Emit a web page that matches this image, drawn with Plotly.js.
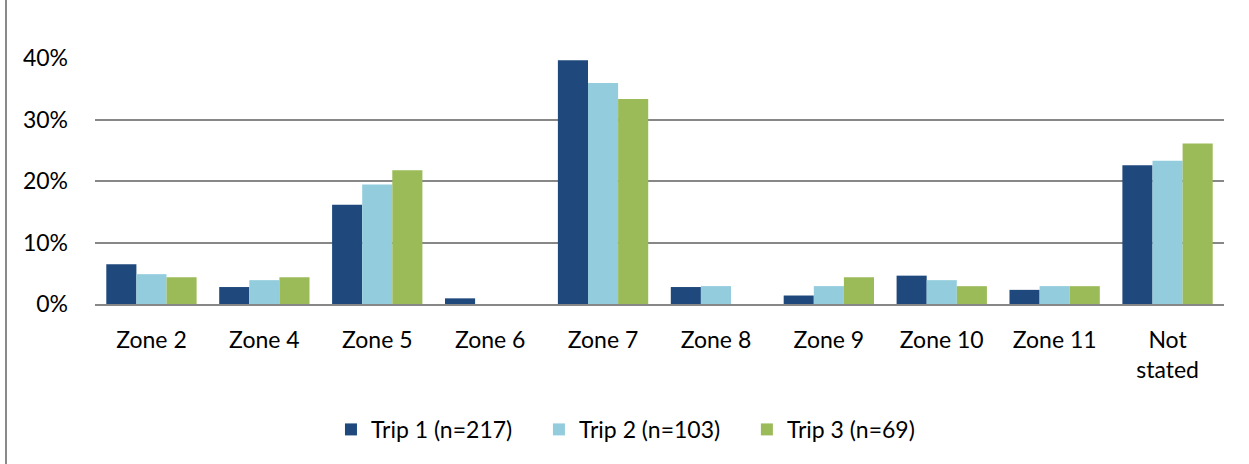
<!DOCTYPE html>
<html>
<head>
<meta charset="utf-8">
<script src="https://cdn.plot.ly/plotly-3.0.1.min.js"></script>
<style>
  html, body { margin: 0; padding: 0; background: #fff; }
  #wrap { position: relative; width: 1249px; height: 464px; }
  #chart { position: absolute; left: 0; top: 0; width: 1249px; height: 464px; }
  #border { position: absolute; left: 5px; top: 0; width: 1.5px; height: 464px; background: #8a8a8a; }
</style>
</head>
<body>
<div id="wrap">
  <div id="chart"></div>
  <div id="border"></div>
</div>
<script>
const categories = ["Zone 2", "Zone 4", "Zone 5", "Zone 6", "Zone 7", "Zone 8", "Zone 9", "Zone 10", "Zone 11", "Not<br>stated"];
const seriesNames = ["Trip 1 (n=217)", "Trip 2 (n=103)", "Trip 3 (n=69)"];
const trip1 = [0.0645, 0.0276, 0.1613, 0.0092, 0.3963, 0.0276, 0.0138, 0.0461, 0.0230, 0.2258];
const trip2 = [0.0485, 0.0388, 0.1942, 0, 0.3592, 0.0291, 0.0291, 0.0388, 0.0291, 0.2330];
const trip3 = [0.0435, 0.0435, 0.2174, 0, 0.3333, 0, 0.0435, 0.0290, 0.0290, 0.2609];
const yTickVals = [0, 0.1, 0.2, 0.3, 0.4];
const yTickText = ["0%", "10%", "20%", "30%", "40%"];
const colors = ["#1F497D", "#93CDDD", "#9BBB59"];

const seriesValues = [trip1, trip2, trip3];
const legendIds = ["legend", "legend2", "legend3"];
const traces = seriesValues.map((vals, i) => ({
  type: "bar",
  name: seriesNames[i],
  x: categories,
  y: vals,
  legend: legendIds[i],
  marker: { color: colors[i], line: { width: 0 } },
  hoverinfo: "none"
}));

const font = { family: "Lato, 'Open Sans', sans-serif", size: 23, color: "#000" };

function legendAt(xp) {
  return {
    orientation: "h",
    x: xp,
    xanchor: "left",
    y: -0.51,
    yanchor: "middle",
    font: font,
    bgcolor: "rgba(0,0,0,0)",
    borderwidth: 0
  };
}

const layout = {
  width: 1249,
  height: 464,
  margin: { l: 95, r: 25, t: 58, b: 160, pad: 0 },
  paper_bgcolor: "#fff",
  plot_bgcolor: "#fff",
  font: font,
  barmode: "group",
  bargap: 0.2,
  bargroupgap: 0,
  showlegend: true,
  legend: legendAt(0.2090),
  legend2: legendAt(0.3932),
  legend3: legendAt(0.5774),
  xaxis: {
    type: "category",
    showgrid: false,
    showline: true,
    linecolor: "#878787",
    linewidth: 2,
    ticks: "",
    tickfont: font,
    ticklabelstandoff: 14,
    fixedrange: true
  },
  yaxis: {
    range: [0, 0.4],
    tickvals: yTickVals,
    ticktext: yTickText,
    showgrid: true,
    gridcolor: "#878787",
    gridwidth: 2,
    zeroline: false,
    showline: false,
    ticks: "",
    tickfont: font,
    ticklabelstandoff: 26,
    fixedrange: true
  }
};

Plotly.newPlot("chart", traces, layout, { staticPlot: true, displayModeBar: false });
</script>
</body>
</html>
